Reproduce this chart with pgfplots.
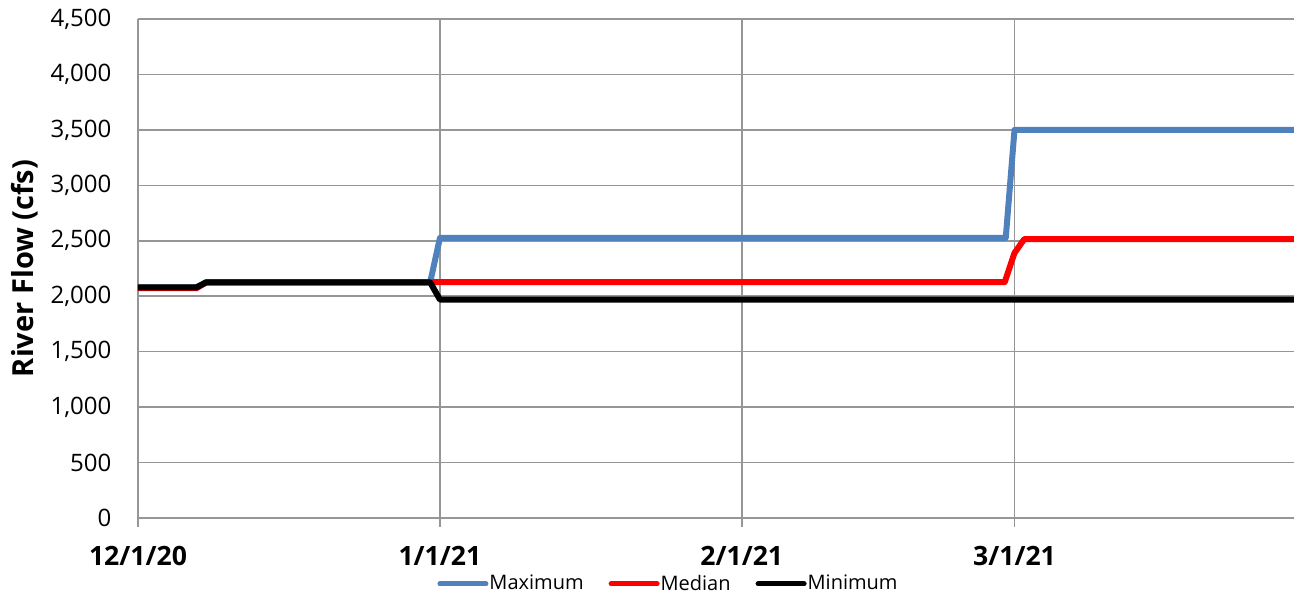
\documentclass[border=0pt]{standalone}
\usepackage{fontspec}
\setmainfont{Open Sans}
\usepackage{pgfplots}
\pgfplotsset{compat=1.18}
\definecolor{maxblue}{RGB}{79,129,189}
\definecolor{gridgray}{RGB}{150,150,150}
\begin{document}
\begin{tikzpicture}
\begin{axis}[
  name=ax,
  at={(0,0)}, anchor=south west,
  scale only axis,
  width=578pt, height=249.5pt,
  xmin=0, xmax=118.7,
  ymin=0, ymax=4500,
  axis x line*=bottom,
  axis y line*=left,
  axis line style={gridgray, line width=0.8pt},
  xtick={0,31,62,90},
  xticklabels={12/1/20,1/1/21,2/1/21,3/1/21},
  ytick={0,500,...,4500},
  grid=major,
  grid style={gridgray, line width=0.8pt},
  x tick style={gridgray, line width=0.8pt},
  major tick length=4.5pt,
  y tick style={draw=none},
  tick align=outside,
  xticklabel style={font=\fontsize{13.3}{15}\selectfont\bfseries, yshift=-5pt},
  yticklabel style={font=\fontsize{12}{14}\selectfont, xshift=-4pt},
  /pgf/number format/assume math mode=true,
  /pgf/number format/1000 sep={,},
  ylabel={River Flow (cfs)},
  ylabel style={font=\fontsize{14.5}{16}\selectfont\bfseries, at={(axis description cs:-0.098,0.5)}, anchor=center},
  legend style={at={(265pt,-33pt)}, anchor=center, draw=none, fill=none,
    legend columns=3, font=\fontsize{10}{12}\selectfont,
    nodes={inner xsep=0.5pt, inner ysep=1pt},
    /tikz/every even column/.append style={column sep=12pt},
    inner sep=0pt},
  legend image code/.code={\draw[#1, line cap=round, line width=2.5pt] (0pt,0pt) -- (23pt,0pt);},
  line width=3pt,
  clip=false,
]
\addplot[color=maxblue, line join=round] coordinates {
  (0,2080) (6,2080) (7,2125) (30,2125) (31,2525) (89.1,2525) (90,3500) (118.7,3500)
};
\addplot[color=red, line join=round] coordinates {
  (0,2072) (6,2072) (7,2125) (30,2125) (31,2128) (89,2128) (90,2390) (91,2515) (118.7,2515)
};
\addplot[color=black, line join=round] coordinates {
  (0,2080) (6,2080) (7,2125) (30,2125) (31,1970) (118.7,1970)
};
\legend{Maximum,Median,Minimum}
\end{axis}
\pgfresetboundingbox
\useasboundingbox (-69pt,-39.5pt) rectangle (578pt,259pt);
\end{tikzpicture}
\end{document}
